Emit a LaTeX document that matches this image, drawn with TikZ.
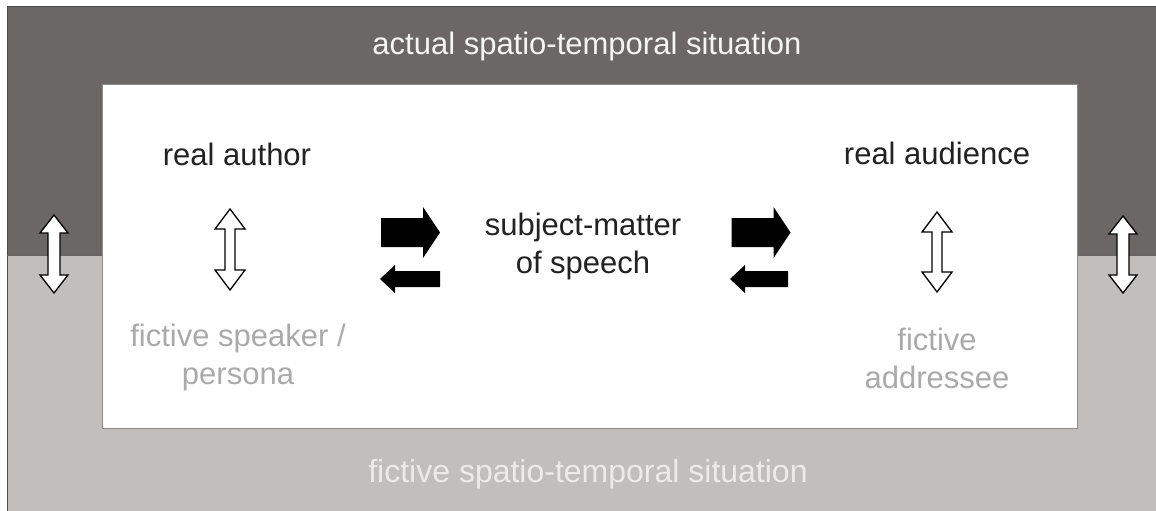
\documentclass[tikz,border=0pt]{standalone}
\usepackage{fontspec}
\setmainfont{Liberation Sans}
\definecolor{actualgray}{RGB}{107,103,102}
\definecolor{fictivegray}{RGB}{192,191,190}
\definecolor{realtext}{RGB}{34,34,34}
\definecolor{fictivetext}{RGB}{170,170,170}
\begin{document}
\begin{tikzpicture}[x=1pt,y=-1pt,
  label/.style={inner sep=0pt, align=center, font=\fontsize{31}{38}\selectfont},
  hollow/.style={draw=black, fill=white, line width=1.3pt, line join=miter},
  solid block/.style={fill=black},
  % vertical double block arrow: length, head half-width, shaft half-width, head length
  pics/updown/.style n args={4}{code={
    \coordinate (-mid) at (0,0);
    \filldraw[hollow] (0,{-#1/2}) -- (#2,{-#1/2+#4}) -- (#3,{-#1/2+#4}) -- (#3,{#1/2-#4})
      -- (#2,{#1/2-#4}) -- (0,{#1/2}) -- (-#2,{#1/2-#4}) -- (-#3,{#1/2-#4})
      -- (-#3,{-#1/2+#4}) -- (-#2,{-#1/2+#4}) -- cycle;}},
  % horizontal single block arrow pointing to +x: same four parameters
  pics/blockarrow/.style n args={4}{code={
    \coordinate (-mid) at (0,0);
    \fill[solid block] ({-#1/2},-#3) -- ({#1/2-#4},-#3) -- ({#1/2-#4},-#2) -- ({#1/2},0)
      -- ({#1/2-#4},#2) -- ({#1/2-#4},#3) -- ({-#1/2},#3) -- cycle;}}]
  \useasboundingbox (0,0) rectangle (1156,511);
  % the two spatio-temporal situations
  \fill[actualgray] (7,7) rectangle (1156,255);
  \fill[fictivegray] (7,255) rectangle (1156,511);
  \draw[black!70, line width=1pt] (7,511) -- (7,7) -- (1156,7);
  \draw[black!60, line width=0.8pt] (7,255) -- (1156,255);
  % the text itself
  \filldraw[fill=white, draw=black!45, line width=1pt] (102,84) rectangle (1077,428);

  \node[label, text=white!96!black, anchor=base] (actual) at (587,55) {actual spatio-temporal situation};
  \node[label, text=white!92!black, anchor=base, font=\fontsize{32}{38}\selectfont] (fictive) at (588,482) {fictive spatio-temporal situation};

  \node[label, text=realtext, anchor=base] (author) at (237,165) {real author};
  \node[label, text=realtext, anchor=base] (audience) at (937,164) {real audience};
  \node[label, text=realtext, anchor=base] (subject) at (583,273) {subject-matter\\of speech};
  \node[label, text=fictivetext, anchor=base] (speaker) at (238,384) {fictive speaker /\\persona};
  \node[label, text=fictivetext, anchor=base] (addressee) at (937,388) {fictive\\addressee};

  % vertical links between real and fictive levels
  \pic (linkA) at (230,249.5) {updown={81}{15}{5}{20}};
  \pic (linkB) at (937,252) {updown={80}{15}{5}{20}};
  \pic (linkC) at (54,254) {updown={78}{14}{6}{18}};
  \pic (linkD) at (1123,254.5) {updown={77}{14}{6}{18}};

  % exchanges with the subject-matter
  \pic (toSubject) at (410.5,232.5) {blockarrow={59}{25.5}{14.5}{17}};
  \pic[xscale=-1] (fromSubject) at (410,279) {blockarrow={60}{14}{8}{15}};
  \pic (toAudience) at (761,232.5) {blockarrow={59}{25.5}{14.5}{17}};
  \pic[xscale=-1] (fromAudience) at (759,279) {blockarrow={58}{14}{8}{15}};
\end{tikzpicture}
\end{document}
